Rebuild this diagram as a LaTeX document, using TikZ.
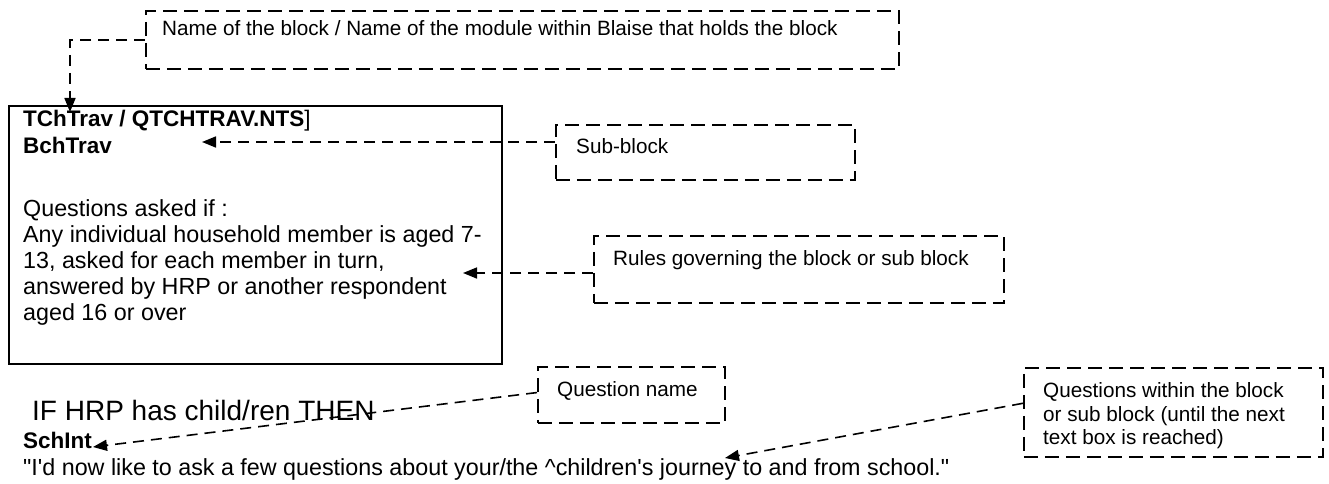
\documentclass[tikz,border=0pt]{standalone}
\usepackage{fontspec}
\setmainfont{Liberation Sans}
\usetikzlibrary{arrows.meta,calc}
\begin{document}
\begin{tikzpicture}[x=1pt,y=-1pt,
  cbox/.style={draw, line width=1.7pt, dash pattern=on 14pt off 7pt, inner sep=0pt, anchor=north west},
  mbox/.style={draw, line width=2pt, inner sep=0pt, anchor=north west},
  conn/.style={line width=1.6pt, dash pattern=on 11pt off 7pt, -{Triangle[length=14pt,width=11pt]}},
  mtxt/.style={anchor=base west, inner sep=0pt, font=\fontsize{23.3}{26}\selectfont},
  bold/.style={anchor=base west, inner sep=0pt, font=\fontsize{22.5}{26}\selectfont\bfseries},
  ctxt/.style={anchor=base west, inner sep=0pt, font=\fontsize{20.7}{23.5}\selectfont},
  btxt/.style={anchor=base west, inner sep=0pt, font=\fontsize{28}{31}\selectfont}]
\useasboundingbox (0,0) rectangle (1329,484);

% main block box
\node[mbox, minimum width=493pt, minimum height=258pt] (mainBox) at (8,105) {};
\node[bold] (hdrA) at (23,126) {TChTrav / QTCHTRAV.NTS\mdseries]};
\node[bold] (hdrB) at (23,153) {BchTrav};
\node[mtxt] (bodyA) at (23,216) {Questions asked if :};
\node[mtxt] (bodyB) at (23,242) {Any individual household member is aged 7-};
\node[mtxt] (bodyC) at (23,268) {13, asked for each member in turn,};
\node[mtxt] (bodyD) at (23,294) {answered by HRP or another respondent};
\node[mtxt] (bodyE) at (23,320) {aged 16 or over};

% text below box
\node[btxt] (ifLine) at (32,420) {IF HRP has child/ren THEN};
\node[bold] (schInt) at (23,448) {SchInt};
\node[mtxt] (quote) at (23,475) {\textquotedbl I\textquotesingle d now like to ask a few questions about your/the \textasciicircum children\textquotesingle s journey to and from school.\textquotedbl};

% callout boxes
\node[cbox, minimum width=753pt, minimum height=58pt] (nameBox) at (145,10) {};
\node[ctxt] (nameTxt) at (162,36) {Name of the block / Name of the module within Blaise that holds the block};

\node[cbox, minimum width=299pt, minimum height=55pt] (subBox) at (555,124) {};
\node[ctxt] (subTxt) at (576,153) {Sub-block};

\node[cbox, minimum width=410pt, minimum height=67pt] (rulesBox) at (593,235) {};
\node[ctxt] (rulesTxt) at (613,265) {Rules governing the block or sub block};

\node[cbox, minimum width=187pt, minimum height=56pt] (qnBox) at (537,366) {};
\node[ctxt] (qnTxt) at (557,396) {Question name};

\node[cbox, minimum width=299pt, minimum height=89pt] (qwBox) at (1023,367) {};
\node[ctxt] (qwTxtA) at (1043,397) {Questions within the block};
\node[ctxt] (qwTxtB) at (1043,421) {or sub block (until the next};
\node[ctxt] (qwTxtC) at (1043,444) {text box is reached)};

% connector end points
\coordinate (tipA) at (70,112);
\coordinate (tipB) at (202,142);
\coordinate (tipC) at (463,273);
\coordinate (tipD) at (93,447);
\coordinate (tipE) at (725,458);

% connectors
\draw[conn] (nameBox.west) -| (tipA);
\draw[conn] (subBox.west |- tipB) -- (tipB);
\draw[conn] (rulesBox.west |- tipC) -- (tipC);
\draw[conn] ($(qnBox.north west)!0.46!(qnBox.south west)$) -- (tipD);
\draw[conn] ($(qwBox.north west)!0.4!(qwBox.south west)$) -- (tipE);
\end{tikzpicture}
\end{document}
